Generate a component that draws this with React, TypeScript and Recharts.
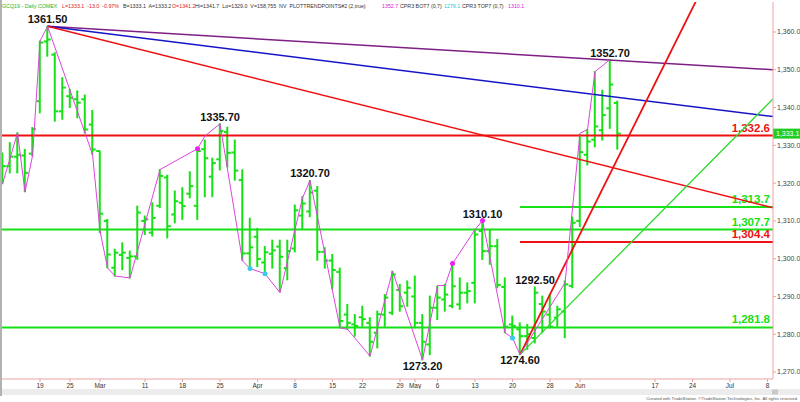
import React from "react";
import {
  ComposedChart,
  Bar,
  Line,
  XAxis,
  YAxis,
  ReferenceLine,
  ReferenceDot,
} from "recharts";

// GCQ19 daily bars, one entry per trading day from Feb 11 to Jun 10 2019
const opens = [
  1325.5, 1324.5, 1327.0, 1327.3, 1327.8, 1341.7, 1357.5, 1354.0, 1339.0, 1343.0,
  1342.2, 1342.2, 1335.5, 1328.5, 1310.0, 1297.6, 1301.0, 1300.2, 1300.6, 1310.0,
  1306.9, 1314.0, 1321.5, 1311.7, 1314.8, 1317.2, 1314.0, 1329.0, 1321.7, 1326.3,
  1333.5, 1328.1, 1320.8, 1301.4, 1305.8, 1299.0, 1301.3, 1303.2, 1297.5, 1302.7,
  1311.4, 1312.5, 1318.0, 1301.8, 1299.5, 1296.5, 1285.2, 1282.6, 1284.5, 1283.0,
  1280.4, 1285.2, 1285.7, 1291.7, 1291.0, 1290.0, 1283.0, 1277.3, 1287.0, 1289.2,
  1287.5, 1287.9, 1291.0, 1293.6, 1307.3, 1302.0, 1303.3, 1292.5, 1282.6, 1281.3,
  1279.5, 1279.0, 1288.0, 1285.2, 1284.4, 1286.0, 1292.8, 1310.0, 1327.5, 1331.5,
  1334.0, 1339.8, 1341.2,
];
const highs = [
  1328.0, 1330.7, 1333.3, 1328.9, 1334.7, 1357.6, 1361.5, 1354.5, 1347.9, 1344.8,
  1344.4, 1343.3, 1339.2, 1328.5, 1310.4, 1302.5, 1304.2, 1302.0, 1313.9, 1311.3,
  1314.8, 1323.6, 1322.1, 1317.9, 1318.8, 1323.0, 1328.9, 1331.4, 1326.6, 1335.7,
  1334.8, 1331.4, 1323.5, 1310.7, 1308.0, 1303.2, 1304.9, 1304.9, 1304.9, 1314.2,
  1316.4, 1320.7, 1319.1, 1302.9, 1301.1, 1297.5, 1287.9, 1285.2, 1287.4, 1284.4,
  1286.1, 1290.5, 1296.7, 1293.2, 1294.1, 1295.4, 1285.2, 1290.1, 1292.7, 1293.2,
  1298.9, 1294.9, 1293.6, 1307.7, 1310.1, 1307.7, 1305.1, 1294.9, 1284.8, 1283.0,
  1282.6, 1292.5, 1290.1, 1290.5, 1287.4, 1294.1, 1311.0, 1332.9, 1334.2, 1349.5,
  1344.6, 1352.7, 1341.7,
];
const lows = [
  1319.8, 1322.7, 1322.7, 1317.7, 1327.2, 1338.6, 1353.6, 1336.4, 1336.9, 1340.0,
  1337.3, 1333.3, 1327.6, 1306.9, 1297.6, 1295.4, 1297.1, 1294.9, 1299.8, 1306.4,
  1306.0, 1313.5, 1305.5, 1309.5, 1310.4, 1316.1, 1310.4, 1316.4, 1316.4, 1323.5,
  1324.3, 1320.8, 1299.6, 1297.9, 1297.9, 1296.6, 1297.5, 1291.3, 1294.4, 1301.8,
  1308.0, 1311.1, 1299.6, 1297.5, 1292.0, 1281.7, 1281.3, 1279.5, 1282.1, 1274.2,
  1276.4, 1282.1, 1285.2, 1286.1, 1287.4, 1281.7, 1273.2, 1274.6, 1283.9, 1286.1,
  1287.0, 1286.6, 1288.3, 1288.3, 1299.8, 1298.5, 1292.3, 1280.4, 1279.1, 1274.6,
  1276.0, 1277.7, 1280.4, 1281.7, 1282.1, 1279.1, 1292.3, 1308.5, 1324.8, 1329.6,
  1331.4, 1334.5, 1329.0,
];
const closes = [
  1324.5, 1327.0, 1327.5, 1322.7, 1334.3, 1357.2, 1358.0, 1339.0, 1345.3, 1342.6,
  1341.3, 1334.2, 1328.9, 1311.9, 1301.1, 1301.6, 1301.6, 1300.6, 1312.2, 1310.4,
  1310.8, 1321.9, 1308.6, 1315.2, 1313.9, 1319.2, 1328.5, 1326.6, 1325.3, 1333.8,
  1328.0, 1323.3, 1301.4, 1303.0, 1299.9, 1301.7, 1302.2, 1300.5, 1302.0, 1312.8,
  1314.6, 1317.5, 1301.8, 1299.5, 1297.0, 1283.5, 1283.0, 1282.2, 1284.0, 1278.0,
  1285.3, 1289.7, 1295.8, 1287.4, 1292.3, 1283.0, 1278.0, 1287.0, 1289.7, 1290.5,
  1292.7, 1291.0, 1291.4, 1306.4, 1302.0, 1303.3, 1293.0, 1282.0, 1282.2, 1279.5,
  1280.0, 1291.0, 1286.0, 1282.0, 1286.6, 1293.2, 1309.5, 1328.2, 1331.0, 1335.0,
  1338.0, 1346.1, 1333.1,
];

// trend point zigzag (bar index, price)
const zigIdx = [0, 2, 3, 4, 5, 6, 12, 13, 14, 15, 17, 21, 26, 27, 29, 32, 33, 35, 37, 40,
  41, 45, 46, 49, 52, 56, 58, 59, 60, 63, 64, 67, 68, 69, 75, 77, 78, 79, 81];
const zigVal = [1319.8, 1333.3, 1317.7, 1327.2, 1357.6, 1361.5, 1327.6, 1307.3, 1297.6, 1295.4,
  1294.9, 1323.6, 1329.1, 1332.5, 1335.7, 1299.4, 1297.4, 1296.0, 1291.0, 1316.1,
  1320.7, 1281.7, 1281.3, 1274.2, 1296.7, 1273.2, 1292.9, 1292.9, 1298.7, 1307.7,
  1310.1, 1280.4, 1279.0, 1274.6, 1293.6, 1333.2, 1334.2, 1349.5, 1352.7];
const magentaDots = [26, 60, 64];
const cyanDots = [33, 35, 68];

const swingHighIdx = [6, 29, 41, 64, 71, 81];
const swingHighVal = [1361.5, 1335.7, 1320.7, 1310.1, 1292.5, 1352.7];
const swingLowIdx = [56, 69];
const swingLowVal = [1273.2, 1274.6];

const redLevels = [1332.6];
const greenLevels = [1307.7, 1281.8];
const shortStart = 69;
const greenShort = [1313.7];
const redShort = [1304.4];
const lastPrice = 1333.1;

// trend lines: [startIdx, startVal, endIdx, endVal]
const purpleTrend = [6, 1361.5, 102.73, 1350.0];
const blueTrend = [6, 1361.5, 102.73, 1337.6];
const redDownTrend = [6, 1361.5, 102.73, 1313.5];
const redUpTrend = [69, 1274.6, 95, 1378.3];
const greenUpTrend = [69, 1274.6, 102.73, 1342.3];

const tickIdx = [5, 9, 13, 19, 24, 29, 34, 39, 44, 48, 53, 55, 58, 63, 68, 73, 77, 87, 92, 97, 102];
const tickLabels = ["19", "25", "Mar", "11", "18", "25", "Apr", "8", "15", "22", "29",
  "May", "6", "13", "20", "28", "Jun", "17", "24", "Jul", "8"];
const priceTicks = [1270, 1280, 1290, 1300, 1310, 1320, 1330, 1340, 1350, 1360];

const GREEN = "#16e016";
const RED = "#ee1111";
const AXIS = "#eba3a3";
const FONT = "'Liberation Sans', Arial, sans-serif";

const data = opens.map((o, i) => {
  const k = zigIdx.indexOf(i);
  return {
    i,
    o,
    h: highs[i],
    l: lows[i],
    c: closes[i],
    range: [lows[i], highs[i]],
    zz: k >= 0 ? zigVal[k] : null,
  };
});

const fmt = (v: number) =>
  v.toLocaleString("en-US", { minimumFractionDigits: 1, maximumFractionDigits: 1 });

function OhlcBar(props: any) {
  const { x, y, width, height, payload } = props;
  if (x == null || y == null) return null;
  const cx = x + width / 2;
  const top = Math.min(y, y + height);
  const bot = Math.max(y, y + height);
  const span = payload.h - payload.l || 1;
  const yo = top + ((payload.h - payload.o) / span) * (bot - top);
  const yc = top + ((payload.h - payload.c) / span) * (bot - top);
  return (
    <g stroke={GREEN} strokeWidth={2}>
      <line x1={cx} x2={cx} y1={top - 0.5} y2={bot + 0.5} />
      <line x1={cx - 3.5} x2={cx} y1={yo} y2={yo} />
      <line x1={cx} x2={cx + 3.5} y1={yc} y2={yc} />
    </g>
  );
}

function zigDot(props: any) {
  const { cx, cy, payload, index } = props;
  if (cy == null || payload.zz == null) return <g key={`d${index}`} />;
  let fill = "";
  if (magentaDots.includes(payload.i)) fill = "#ee22ee";
  if (cyanDots.includes(payload.i)) fill = "#33ccee";
  if (!fill) return <g key={`d${index}`} />;
  return <circle key={`d${index}`} cx={cx} cy={cy} r={2.5} fill={fill} stroke="none" />;
}

const levelLabel = (text: string, color: string) => (props: any) => {
  const vb = props.viewBox;
  return (
    <text
      x={vb.x + vb.width - 3}
      y={vb.y - 4}
      textAnchor="end"
      fontSize={11.5}
      fontWeight={700}
      fontFamily={FONT}
      fill={color}
    >
      {text}
    </text>
  );
};

const priceTag = (props: any) => {
  const vb = props.viewBox;
  const x = vb.x + vb.width;
  return (
    <g>
      <rect x={x} y={vb.y - 5} width={27} height={10} fill="#22cc22" />
      <text x={x + 3} y={vb.y + 2.5} fontSize={7} fill="#fff" fontFamily={FONT}>
        {fmt(lastPrice)}
      </text>
    </g>
  );
};

const seg = (t: number[]) => [
  { x: t[0], y: t[1] },
  { x: t[2], y: t[3] },
];

// header line pieces, placed where the reference puts them
const header = [
  { x: 2, t: "GCQ19 - Daily COMEX", c: "#1db51d" },
  { x: 62, t: "L=1333.1  -13.0  -0.97%", c: "#e02020" },
  { x: 123, t: "B=1333.1  A=1333.2", c: "#333" },
  { x: 172, t: "O=1341.2", c: "#e02020" },
  { x: 195, t: "Hi=1341.7  Lo=1329.0  V=158,755  NV  PLOTTRENDPOINTS#2 (2,true)", c: "#333" },
  { x: 382, t: "1352.7", c: "#dd22dd" },
  { x: 400, t: "CPR3 BOT7 (0,7)", c: "#333" },
  { x: 444, t: "1279.1", c: "#22c8d8" },
  { x: 462, t: "CPR3 TOP7 (0,7)", c: "#333" },
  { x: 508, t: "1310.1", c: "#dd22dd" },
];

export default function App() {
  return (
    <div
      style={{
        position: "absolute",
        left: 0,
        top: 0,
        width: 800,
        height: 402,
        background: "#fff",
        overflow: "hidden",
        fontFamily: FONT,
      }}
    >
      <ComposedChart
        width={800}
        height={391}
        data={data}
        margin={{ top: 2, right: 0, bottom: 0, left: 2 }}
      >
        <XAxis
          dataKey="i"
          type="number"
          domain={[-0.07, 102.73]}
          allowDataOverflow
          ticks={tickIdx}
          interval={0}
          tickFormatter={(v) => tickLabels[tickIdx.indexOf(v)] ?? ""}
          tick={{ fontSize: 6.5, fill: "#333", fontFamily: FONT }}
          tickSize={3}
          tickMargin={1}
          height={12}
          axisLine={{ stroke: AXIS }}
          tickLine={{ stroke: AXIS }}
        />
        <YAxis
          orientation="right"
          type="number"
          domain={[1268.15, 1367.94]}
          allowDataOverflow
          ticks={priceTicks}
          interval={0}
          tickFormatter={fmt}
          tick={{ fontSize: 7, fill: "#444", fontFamily: FONT }}
          tickSize={3}
          tickMargin={1}
          width={27}
          axisLine={{ stroke: AXIS }}
          tickLine={{ stroke: AXIS }}
        />

        {redLevels.map((v) => (
          <ReferenceLine key={`r${v}`} y={v} stroke={RED} strokeWidth={2} label={levelLabel(fmt(v), RED)} />
        ))}
        {greenLevels.map((v) => (
          <ReferenceLine key={`g${v}`} y={v} stroke={GREEN} strokeWidth={2} label={levelLabel(fmt(v), GREEN)} />
        ))}
        {greenShort.map((v) => (
          <ReferenceLine
            key={`gs${v}`}
            segment={[{ x: shortStart, y: v }, { x: 102.73, y: v }]}
            stroke={GREEN}
            strokeWidth={2}
            label={levelLabel(fmt(v), GREEN)}
          />
        ))}
        {redShort.map((v) => (
          <ReferenceLine
            key={`rs${v}`}
            segment={[{ x: shortStart, y: v }, { x: 102.73, y: v }]}
            stroke={RED}
            strokeWidth={2}
            label={levelLabel(fmt(v), RED)}
          />
        ))}

        <ReferenceLine segment={seg(purpleTrend)} stroke="#7d1f86" strokeWidth={1.5} ifOverflow="hidden" />
        <ReferenceLine segment={seg(blueTrend)} stroke="#1414c8" strokeWidth={1.5} ifOverflow="hidden" />
        <ReferenceLine segment={seg(redDownTrend)} stroke={RED} strokeWidth={1.5} ifOverflow="hidden" />
        <ReferenceLine segment={seg(redUpTrend)} stroke={RED} strokeWidth={1.8} ifOverflow="hidden" />
        <ReferenceLine segment={seg(greenUpTrend)} stroke="#2fd82f" strokeWidth={1.3} ifOverflow="hidden" />
        <ReferenceLine y={lastPrice} stroke="none" label={priceTag} />

        <Bar dataKey="range" barSize={7} shape={OhlcBar} isAnimationActive={false} />
        <Line
          dataKey="zz"
          type="linear"
          connectNulls
          stroke="#dd44dd"
          strokeWidth={1}
          dot={zigDot}
          activeDot={false}
          isAnimationActive={false}
        />

        {swingHighIdx.map((x, k) => (
          <ReferenceDot
            key={`sh${x}`}
            x={x}
            y={swingHighVal[k]}
            r={0}
            fill="none"
            stroke="none"
            label={{
              value: swingHighVal[k].toFixed(2),
              position: "top",
              offset: 3,
              fontSize: 11,
              fontWeight: 700,
              fill: "#111",
              fontFamily: FONT,
            }}
          />
        ))}
        {swingLowIdx.map((x, k) => (
          <ReferenceDot
            key={`sl${x}`}
            x={x}
            y={swingLowVal[k]}
            r={0}
            fill="none"
            stroke="none"
            label={{
              value: swingLowVal[k].toFixed(2),
              position: "bottom",
              offset: 2,
              fontSize: 11,
              fontWeight: 700,
              fill: "#111",
              fontFamily: FONT,
            }}
          />
        ))}
      </ComposedChart>

      <svg
        width={800}
        height={402}
        style={{ position: "absolute", left: 0, top: 0, pointerEvents: "none" }}
      >
        <line x1={1} x2={1} y1={0} y2={396} stroke="#999" strokeWidth={1.5} />
        {header.map((h) => (
          <text
            key={h.x}
            x={h.x}
            y={7.5}
            fontSize={5.3}
            fill={h.c}
            fontFamily={FONT}
            style={{ whiteSpace: "pre" }}
          >
            {h.t}
          </text>
        ))}
        <rect x={2} y={389} width={798} height={6} fill="#ececec" />
        <rect x={772} y={389.5} width={6} height={5} fill="#c9c9c9" />
        <text x={798} y={400} fontSize={4.3} fill="#555" fontFamily={FONT} textAnchor="end">
          Created with TradeStation. ©TradeStation Technologies, Inc. All rights reserved.
        </text>
      </svg>
    </div>
  );
}
